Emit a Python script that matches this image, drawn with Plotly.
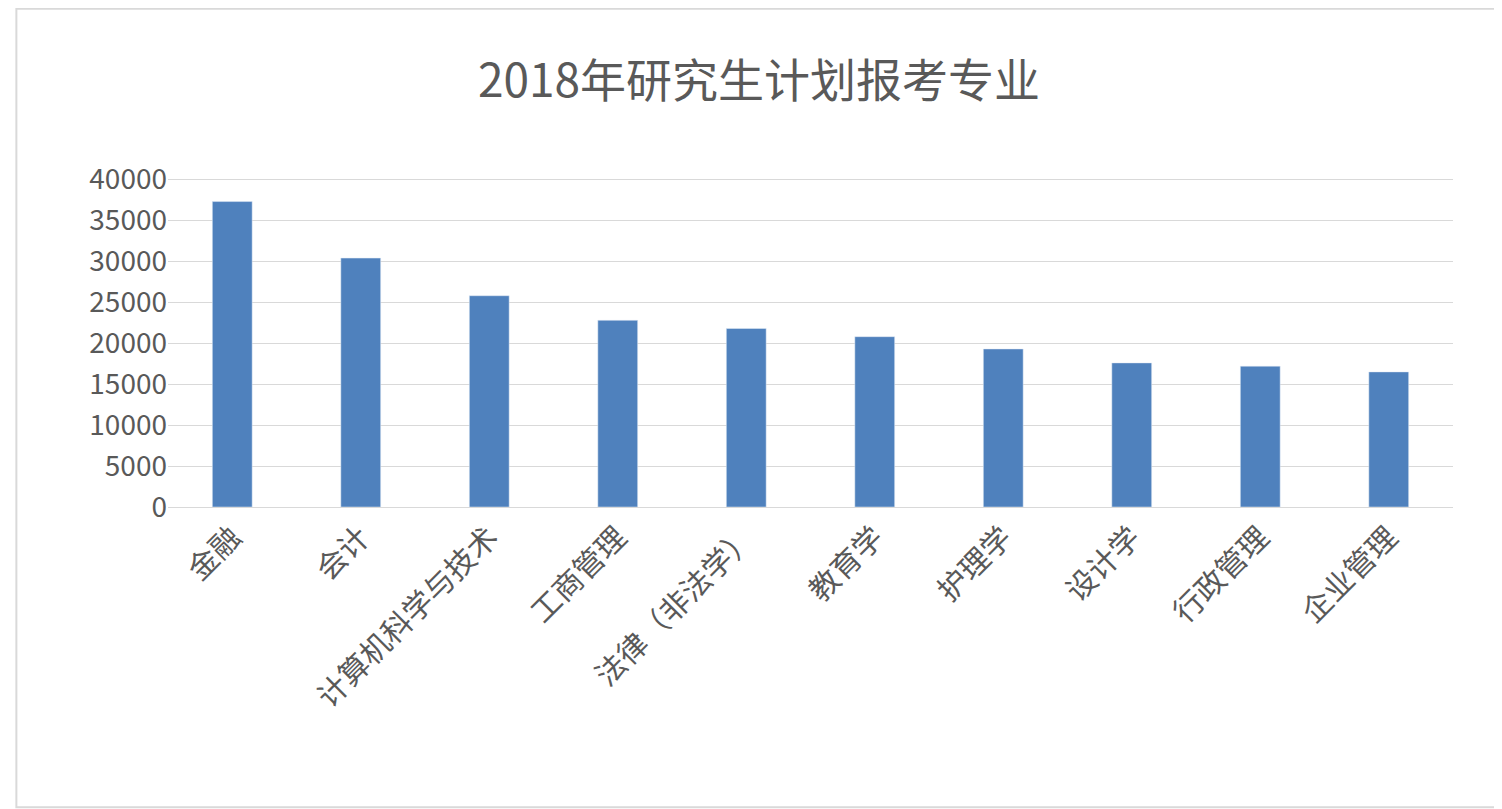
import plotly.graph_objects as go

majors = ["金融", "会计", "计算机科学与技术", "工商管理", "法律（非法学）",
          "教育学", "护理学", "设计学", "行政管理", "企业管理"]
counts = [37300, 30400, 25800, 22800, 21800, 20800, 19300, 17600, 17200, 16500]

fig = go.Figure(go.Bar(x=majors, y=counts, marker_color="#4f81bd", width=0.31))

fig.update_layout(
    width=1502, height=809,
    title=dict(text="2018年研究生计划报考专业", x=0.5, y=0.93, xanchor="center",
               font=dict(size=46, color="#595959")),
    font=dict(family="Noto Sans CJK SC", color="#595959", size=28),
    plot_bgcolor="white", paper_bgcolor="white",
    margin=dict(l=160, r=57, t=169, b=310),
    bargap=0.69,
    xaxis=dict(tickangle=-45, showline=True, linecolor="#d9d9d9",
               tickfont=dict(size=30)),
    yaxis=dict(range=[0, 40300], tickvals=list(range(0, 40001, 5000)),
               tickformat="d", gridcolor="#d9d9d9",
               tickfont=dict(size=28), zeroline=False),
    shapes=[dict(type="rect", xref="paper", yref="paper", x0=-0.118, x1=1.039,
                 y0=-0.91, y1=1.51, line=dict(color="#d9d9d9", width=2))],
)

fig.write_html("out.html")
